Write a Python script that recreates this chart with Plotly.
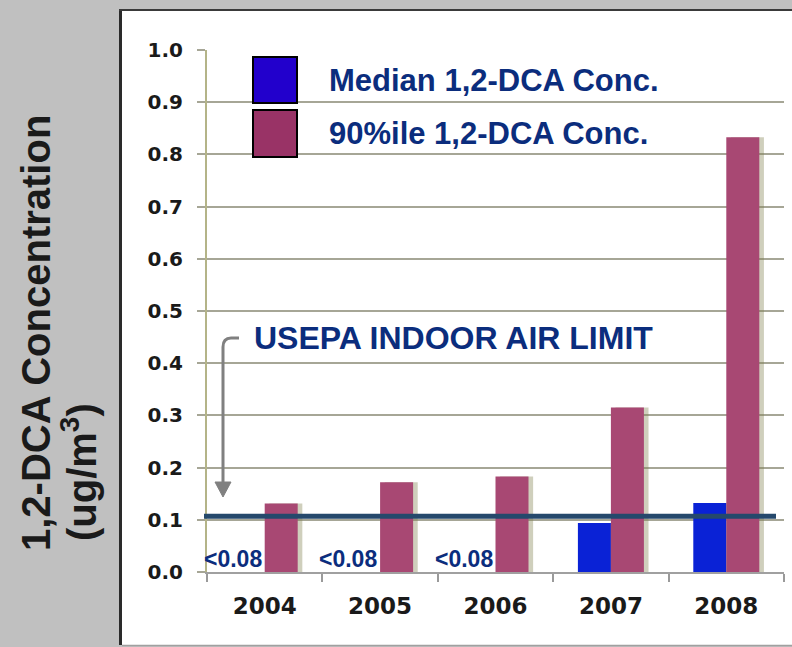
import plotly.graph_objects as go

# ---- data -------------------------------------------------------------
years = ["2004", "2005", "2006", "2007", "2008"]
median_conc = [None, None, None, 0.094, 0.132]      # ug/m3 (below detection 2004-2006)
p90_conc = [0.131, 0.172, 0.183, 0.315, 0.833]      # ug/m3
nondetect_labels = ["<0.08", "<0.08", "<0.08", "", ""]
series_names = ["Median 1,2-DCA Conc.", "90%ile 1,2-DCA Conc."]
USEPA_LIMIT = 0.107
limit_label = "USEPA INDOOR AIR LIMIT"
y_tick_vals = [0.0, 0.1, 0.2, 0.3, 0.4, 0.5, 0.6, 0.7, 0.8, 0.9, 1.0]
y_tick_text = ["0.0", "0.1", "0.2", "0.3", "0.4", "0.5", "0.6", "0.7", "0.8", "0.9", "1.0"]
y_title_1 = "1,2-DCA Concentration"
y_title_2 = "(ug/m<sup>3</sup>)"

# ---- styling ----------------------------------------------------------
W, H = 792, 647
ML, MR, MT, MB = 207, 8, 50, 75
PW, PH = W - ML - MR, H - MT - MB

def fx(px):
    """pixel column -> paper x"""
    return (px - ML) / PW

def fy(py):
    """pixel row -> paper y"""
    return (H - MB - py) / PH

BLUE = "#0a22d6"
PURPLE = "#a84873"
LEG_BLUE = "#2200cc"
LEG_PURPLE = "#993366"
NAVY = "#0b2d7d"
YELLOW = "#ffffa8"
GRID = "#a6a696"
SHADOW = "rgba(130,130,80,0.38)"
LIMIT_COLOR = "#25496c"
ARROW_GRAY = "#808080"

BAR_W = 0.286
SHADOW_DX = 0.04

fig = go.Figure()

# drop shadows behind the bars
fig.add_trace(go.Bar(x=years, y=median_conc, width=BAR_W, offset=-BAR_W + SHADOW_DX,
                     marker=dict(color=SHADOW, line=dict(width=0)), showlegend=False,
                     hoverinfo="skip"))
fig.add_trace(go.Bar(x=years, y=p90_conc, width=BAR_W, offset=SHADOW_DX,
                     marker=dict(color=SHADOW, line=dict(width=0)), showlegend=False,
                     hoverinfo="skip"))
# main bars
fig.add_trace(go.Bar(x=years, y=median_conc, width=BAR_W, offset=-BAR_W, name=series_names[0],
                     marker=dict(color=BLUE, line=dict(width=0)), showlegend=False))
fig.add_trace(go.Bar(x=years, y=p90_conc, width=BAR_W, offset=0, name=series_names[1],
                     marker=dict(color=PURPLE, line=dict(width=0)), showlegend=False))

shapes = [
    # white slide panel with its borders
    dict(type="rect", xref="paper", yref="paper", x0=fx(120), x1=fx(800), y0=fy(645), y1=fy(10),
         fillcolor="white", line=dict(width=0), layer="below"),
    dict(type="line", xref="paper", yref="paper", x0=fx(120.5), x1=fx(120.5), y0=fy(645), y1=fy(10),
         line=dict(color="#2a2a2a", width=3), layer="below"),
    dict(type="line", xref="paper", yref="paper", x0=fx(119), x1=fx(800), y0=fy(10), y1=fy(10),
         line=dict(color="#3a3a3a", width=2), layer="below"),
    dict(type="line", xref="paper", yref="paper", x0=fx(122), x1=fx(800), y0=fy(645.5), y1=fy(645.5),
         line=dict(color="#a0a0a0", width=1.5), layer="below"),
    # indoor-air limit line
    dict(type="line", xref="paper", yref="y", x0=fx(204), x1=fx(776), y0=USEPA_LIMIT, y1=USEPA_LIMIT,
         line=dict(color=LIMIT_COLOR, width=5)),
    # legend swatches
    dict(type="rect", xref="paper", yref="paper", x0=fx(253), x1=fx(297), y0=fy(103), y1=fy(57),
         fillcolor=LEG_BLUE, line=dict(color="black", width=2)),
    dict(type="rect", xref="paper", yref="paper", x0=fx(253), x1=fx(297), y0=fy(157), y1=fy(110),
         fillcolor=LEG_PURPLE, line=dict(color="black", width=2)),
    # curved pointer from the limit label down to the line
    dict(type="path", xref="paper", yref="paper",
         path=f"M {fx(239)},{fy(338)} L {fx(231)},{fy(338)} "
              f"Q {fx(223)},{fy(338)} {fx(223)},{fy(347)} L {fx(223)},{fy(484)}",
         line=dict(color=ARROW_GRAY, width=3)),
    dict(type="path", xref="paper", yref="paper",
         path=f"M {fx(215)},{fy(482)} L {fx(231)},{fy(482)} L {fx(223)},{fy(497)} Z",
         fillcolor=ARROW_GRAY, line=dict(color=ARROW_GRAY, width=1)),
]

bold_sans = "Liberation Sans, Arial, sans-serif"
annotations = [
    dict(xref="paper", yref="paper", x=fx(327), y=fy(80), xanchor="left", yanchor="middle",
         text=series_names[0], showarrow=False,
         font=dict(family=bold_sans, size=31, color=NAVY, weight="bold")),
    dict(xref="paper", yref="paper", x=fx(327), y=fy(133), xanchor="left", yanchor="middle",
         text=series_names[1], showarrow=False,
         font=dict(family=bold_sans, size=31, color=NAVY, weight="bold")),
    dict(xref="paper", yref="paper", x=fx(252), y=fy(338), xanchor="left", yanchor="middle",
         text=limit_label, showarrow=False,
         font=dict(family=bold_sans, size=32, color=NAVY, weight="bold")),
    dict(xref="paper", yref="paper", x=fx(36), y=fy(553), xanchor="center", yanchor="bottom",
         text=y_title_1, textangle=-90, showarrow=False,
         font=dict(family=bold_sans, size=40, color="#1a1a1a", weight="bold")),
    dict(xref="paper", yref="paper", x=fx(79), y=fy(543), xanchor="center", yanchor="bottom",
         text=y_title_2, textangle=-90, showarrow=False,
         font=dict(family=bold_sans, size=40, color="#1a1a1a", weight="bold")),
]
# "below detection" labels sit just left of each category centre
for i, lab in enumerate(nondetect_labels):
    if lab:
        annotations.append(dict(x=i, y=0, xref="x", yref="y", xanchor="right", yanchor="bottom",
                                xshift=-1, yshift=-2, text=lab, showarrow=False,
                                font=dict(family=bold_sans, size=23, color=NAVY, weight="bold")))

fig.update_layout(
    width=W, height=H,
    margin=dict(l=ML, r=MR, t=MT, b=MB, pad=0),
    paper_bgcolor="#c0c0c0",
    plot_bgcolor=YELLOW,
    barmode="overlay",
    showlegend=False,
    shapes=shapes,
    annotations=annotations,
    xaxis=dict(type="category", categoryorder="array", categoryarray=years,
               range=[-0.5, len(years) - 0.5], autorange=False, automargin=False,
               tickson="boundaries", ticks="outside", ticklen=8,
               tickcolor="#9a9a9a", tickwidth=1.5, showline=True, linecolor="#a0a0a0",
               linewidth=1.5, showgrid=False, ticklabelstandoff=13, tickangle=0,
               tickfont=dict(family="DejaVu Sans, Verdana, sans-serif", size=23,
                             color="#1a1a1a", weight="bold")),
    yaxis=dict(range=[0, 1], autorange=False, automargin=False,
               tickvals=y_tick_vals, ticktext=y_tick_text, showgrid=True,
               gridcolor=GRID, gridwidth=1.5, ticks="outside", ticklen=8, tickcolor=GRID,
               tickwidth=1.5, showline=True, linecolor="#b4b488", linewidth=2, zeroline=False,
               ticklabelstandoff=10,
               tickfont=dict(family="DejaVu Sans, Verdana, sans-serif", size=20,
                             color="#1a1a1a", weight="bold")),
)

fig.write_html("out.html")
